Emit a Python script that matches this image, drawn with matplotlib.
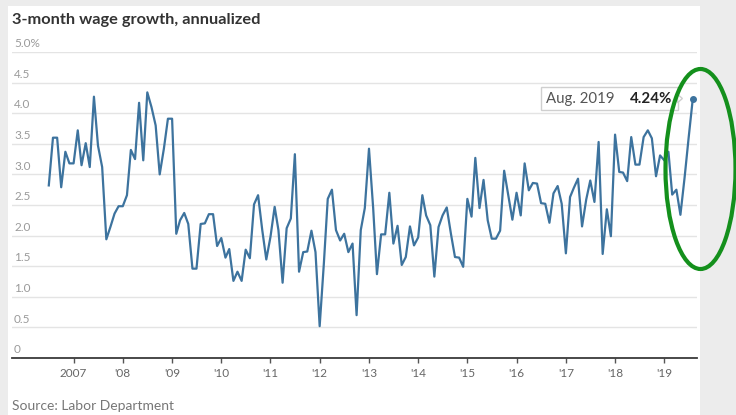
import matplotlib
matplotlib.use("Agg")
import matplotlib.pyplot as plt
import matplotlib.patches as mpatches
import matplotlib.transforms as mtransforms
import matplotlib.dates as mdates
import pandas as pd

# 3-month annualized growth in average hourly earnings, Jul 2006 - Aug 2019
months = pd.date_range("2006-07-01", "2019-08-01", freq="MS")
growth = [
    2.82, 3.60, 3.60, 2.79, 3.37, 3.18, 3.18, 3.72, 3.15, 3.51, 3.12, 4.27, 3.47, 3.12,
    1.94, 2.14, 2.36, 2.48, 2.48, 2.66, 3.40, 3.25, 4.17, 3.23, 4.34, 4.10, 3.80, 3.00,
    3.42, 3.91, 3.91, 2.03, 2.25, 2.37, 2.19, 1.46, 1.46, 2.19, 2.20,
    2.35, 2.35, 1.83, 1.96, 1.64, 1.78, 1.26, 1.41, 1.26, 1.77, 1.63, 2.51, 2.66, 2.09,
    1.61, 1.98, 2.47, 2.09, 1.23, 2.12, 2.28, 3.33, 1.41, 1.73, 1.74, 2.08, 1.73, 0.52,
    1.54, 2.60, 2.75, 2.09, 1.92, 2.03, 1.73, 1.87, 0.70, 2.09, 2.45,
    3.42, 2.45, 1.37, 2.02, 2.02, 2.70, 1.87, 2.16, 1.52, 1.65, 2.15, 1.84, 1.97, 2.66,
    2.33, 2.17, 1.33, 2.14, 2.33, 2.46, 2.03, 1.65, 1.64, 1.49, 2.60, 2.31, 3.27, 2.45,
    2.91, 2.25, 1.95, 1.95, 2.08, 3.06, 2.65, 2.26, 2.70, 2.33, 3.18,
    2.74, 2.86, 2.85, 2.53, 2.52, 2.21, 2.69, 2.81, 2.52, 1.71, 2.63, 2.78, 2.93, 2.15,
    2.59, 2.90, 2.55, 3.53, 1.70, 2.43, 1.99, 3.65, 3.04, 3.03, 2.89, 3.61, 3.16, 3.16,
    3.61, 3.72, 3.59, 2.97, 3.31, 3.23, 3.37, 2.67, 2.75, 2.34, 2.95, 3.60, 4.24,
]

year_ticks = pd.date_range("2007-01-01", "2019-01-01", freq="YS")
year_labels = ["2007"] + ["'%02d" % (y % 100) for y in range(2008, 2020)]
y_ticks = [0, 0.5, 1.0, 1.5, 2.0, 2.5, 3.0, 3.5, 4.0, 4.5, 5.0]
y_labels = ["0", "0.5", "1.0", "1.5", "2.0", "2.5", "3.0", "3.5", "4.0", "4.5", "5.0%"]

plt.rcParams["font.family"] = ["Lato", "DejaVu Sans"]

W, H = 736, 415
fig = plt.figure(figsize=(W / 100, H / 100), dpi=100, facecolor="#ececec")

# white card behind the chart
fig.patches.append(mpatches.Rectangle((8 / W, 0), (700 - 8) / W, (H - 6) / H,
                                      transform=fig.transFigure, facecolor="white",
                                      edgecolor="none", zorder=-5))

ax = fig.add_axes([12 / W, 1 - 358 / H, (697 - 12) / W, (358 - 52) / H])
ax.set_zorder(2)
ax.set_facecolor("none")

ax.plot(months, growth, color="#3d739e", lw=1.6, zorder=3)
ax.plot(months[-1], growth[-1], "o", color="#3d739e", ms=4, zorder=4)

ax.set_xlim(pd.Timestamp("2005-10-01"), pd.Timestamp("2019-09-01"))
ax.set_ylim(0, 5.0)

ax.set_yticks(y_ticks)
ax.set_yticklabels([])
ax.tick_params(axis="y", length=0)
ax.grid(axis="y", color="#e4e4e4", lw=1)
ax.set_axisbelow(True)
for v, lab in zip(y_ticks, y_labels):
    ax.annotate(lab, (0, v), xycoords=ax.get_yaxis_transform(), xytext=(1.5, 2),
                textcoords="offset points", ha="left", va="bottom",
                fontsize=8.5, color="#9a9a9a")

ax.set_xticks(year_ticks)
ax.set_xticklabels(year_labels)
ax.tick_params(axis="x", length=3.5, width=1, color="#555555", labelsize=8.5,
               labelcolor="#666666", pad=4)

for s in ["top", "right", "left"]:
    ax.spines[s].set_visible(False)
ax.spines["bottom"].set_color("#3a3a3a")
ax.spines["bottom"].set_linewidth(1.3)

# tooltip for the latest reading
fig.canvas.draw()
px, py = ax.transData.transform((mdates.date2num(months[-1]), growth[-1]))
k = fig.dpi / 72
box_tr = mtransforms.Affine2D().scale(k).translate(px, py)
ax.add_patch(mpatches.Rectangle((-109, -8.5), 98, 17, transform=box_tr,
                                facecolor="white", edgecolor="#cfcfcf", lw=1, zorder=5,
                                clip_on=False))
ax.add_patch(mpatches.Polygon([(-11, 3), (-7.5, 0), (-11, -3)], closed=True,
                              transform=box_tr, facecolor="white", edgecolor="#cfcfcf",
                              lw=1, zorder=5, clip_on=False))
ax.annotate("Aug. 2019", (months[-1], growth[-1]), xytext=(-105.5, 0),
            textcoords="offset points", ha="left", va="center", fontsize=10.8,
            color="#555555", zorder=6)
ax.annotate("%.2f%%" % growth[-1], (months[-1], growth[-1]), xytext=(-14.5, 0),
            textcoords="offset points", ha="right", va="center", fontsize=10.8,
            fontweight="bold", color="#222222", zorder=6)

fig.text(12 / W, 1 - 20 / H, "3-month wage growth, annualized", ha="left", va="center",
         fontsize=11.8, fontweight="bold", color="#333333")
fig.text(12 / W, 1 - 406 / H, "Source: Labor Department", ha="left", va="center",
         fontsize=10, color="#777777")

# green highlight ring around the latest months
fig.patches.append(mpatches.Ellipse((700.5 / W, 1 - 169 / H), 70 / W, 200 / H,
                                    transform=fig.transFigure, facecolor="none",
                                    edgecolor="#14901c", lw=3, zorder=10))

fig.savefig("out.png", dpi=100, facecolor=fig.get_facecolor())
